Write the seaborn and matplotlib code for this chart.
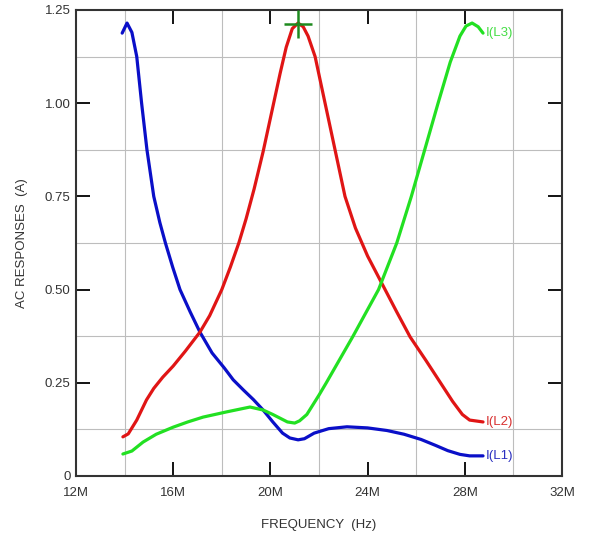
import matplotlib
matplotlib.use("Agg")
import matplotlib.pyplot as plt
import seaborn as sns
import pandas as pd
import numpy as np

# Frequency in MHz, current in A
l1_f = [13.9, 14.1, 14.3, 14.5, 14.7, 14.92, 15.2, 15.45, 15.68, 15.98, 16.28, 16.7, 17.1, 17.6, 18.1, 18.47, 18.9, 19.3, 19.7, 20.1, 20.5, 20.8, 21.14, 21.4, 21.8, 22.4, 23.15, 24.0, 24.8, 25.5, 26.2, 26.8, 27.3, 27.8, 28.2, 28.75]
l1_v = [1.188, 1.215, 1.19, 1.125, 1.0, 0.875, 0.75, 0.68, 0.625, 0.56, 0.5, 0.44, 0.386, 0.33, 0.29, 0.258, 0.23, 0.205, 0.177, 0.145, 0.115, 0.102, 0.097, 0.1, 0.115, 0.127, 0.132, 0.129, 0.122, 0.112, 0.098, 0.082, 0.068, 0.058, 0.054, 0.054]

l2_f = [13.93, 14.15, 14.5, 14.9, 15.2, 15.57, 16.0, 16.5, 17.1, 17.5, 18.0, 18.35, 18.7, 19.0, 19.33, 19.7, 20.1, 20.4, 20.65, 20.9, 21.14, 21.35, 21.55, 21.84, 22.25, 22.66, 23.07, 23.5, 24.0, 24.6, 25.2, 25.75, 26.4, 26.98, 27.5, 27.9, 28.2, 28.75]
l2_v = [0.105, 0.113, 0.15, 0.204, 0.235, 0.265, 0.295, 0.335, 0.386, 0.43, 0.5, 0.56, 0.625, 0.69, 0.77, 0.87, 0.99, 1.08, 1.15, 1.2, 1.215, 1.205, 1.18, 1.125, 1.0, 0.875, 0.75, 0.665, 0.59, 0.515, 0.44, 0.373, 0.31, 0.252, 0.2, 0.165, 0.15, 0.145]

l3_f = [13.93, 14.3, 14.76, 15.3, 16.0, 16.6, 17.23, 18.2, 19.16, 19.7, 20.1, 20.4, 20.7, 21.0, 21.2, 21.5, 22.0, 22.3, 23.4, 24.45, 25.2, 25.8, 26.35, 26.9, 27.4, 27.8, 28.05, 28.3, 28.55, 28.75]
l3_v = [0.059, 0.067, 0.091, 0.112, 0.131, 0.145, 0.158, 0.172, 0.185, 0.177, 0.165, 0.155, 0.145, 0.142, 0.148, 0.165, 0.217, 0.25, 0.375, 0.5, 0.625, 0.75, 0.875, 1.0, 1.11, 1.18, 1.207, 1.215, 1.205, 1.188]

series_names = ["I(L1)", "I(L2)", "I(L3)"]
colors = {"I(L1)": "#0a0fc8", "I(L2)": "#e01515", "I(L3)": "#22e022"}
label_colors = {"I(L1)": "#2a2fc0", "I(L2)": "#d83030", "I(L3)": "#44dd44"}

cursor_f = [21.14]
cursor_v = [1.213]

x_ticks = [12, 16, 20, 24, 28, 32]
x_tick_labels = ["12M", "16M", "20M", "24M", "28M", "32M"]
y_ticks = [0, 0.25, 0.5, 0.75, 1.0, 1.25]
y_tick_labels = ["0", "0.25", "0.50", "0.75", "1.00", "1.25"]

df = pd.concat([
    pd.DataFrame({"f": l1_f, "v": l1_v, "s": "I(L1)"}),
    pd.DataFrame({"f": l2_f, "v": l2_v, "s": "I(L2)"}),
    pd.DataFrame({"f": l3_f, "v": l3_v, "s": "I(L3)"}),
], ignore_index=True)

sns.set_style("white")
plt.rcParams["font.family"] = ["Liberation Sans", "DejaVu Sans"]

fig = plt.figure(figsize=(5.9, 5.33), dpi=100)
ax = fig.add_axes([76 / 590, 1 - 476 / 533, (562 - 76) / 590, (476 - 10) / 533])

sns.lineplot(data=df, x="f", y="v", hue="s", palette=colors, estimator=None,
             sort=False, linewidth=2.3, legend=False, ax=ax)
for ln in ax.get_lines():
    ln.set_solid_joinstyle("round")
    ln.set_solid_capstyle("round")

ax.plot(cursor_f, cursor_v, marker="+", color="#1e8a1e", markersize=20,
        markeredgewidth=1.8, linestyle="none", zorder=5)

ends = {"I(L1)": (l1_f[-1], l1_v[-1]), "I(L2)": (l2_f[-1], l2_v[-1]), "I(L3)": (l3_f[-1], l3_v[-1])}
for name in series_names:
    fx, fy = ends[name]
    ax.text(fx + 0.1, fy, name, color=label_colors[name], fontsize=9.5,
            va="center", ha="left")

ax.set_xlim(12, 32)
ax.set_ylim(0, 1.25)
ax.set_xticks(x_ticks)
ax.set_xticklabels(x_tick_labels)
ax.set_yticks(y_ticks)
ax.set_yticklabels(y_tick_labels)
ax.set_xticks(np.arange(12, 33, 2), minor=True)
ax.set_yticks(np.arange(0, 1.26, 0.125), minor=True)
ax.grid(which="minor", color="#bdbdbd", linewidth=0.8)
ax.grid(which="major", visible=False)
ax.tick_params(which="major", direction="in", length=10, width=1.3, color="black",
               top=True, right=True, bottom=True, left=True,
               labelsize=9.5, labelcolor="#333333")
ax.tick_params(axis="x", which="major", pad=8)
ax.tick_params(axis="y", which="major", pad=4)
ax.tick_params(which="minor", length=0)
for sp in ax.spines.values():
    sp.set_color("#333333")
    sp.set_linewidth(1.5)

ax.set_xlabel("FREQUENCY  (Hz)", fontsize=9.5, color="#333333", labelpad=14)
ax.set_ylabel("AC RESPONSES  (A)", fontsize=9.5, color="#333333", labelpad=12)

fig.savefig("out.png", dpi=100)
